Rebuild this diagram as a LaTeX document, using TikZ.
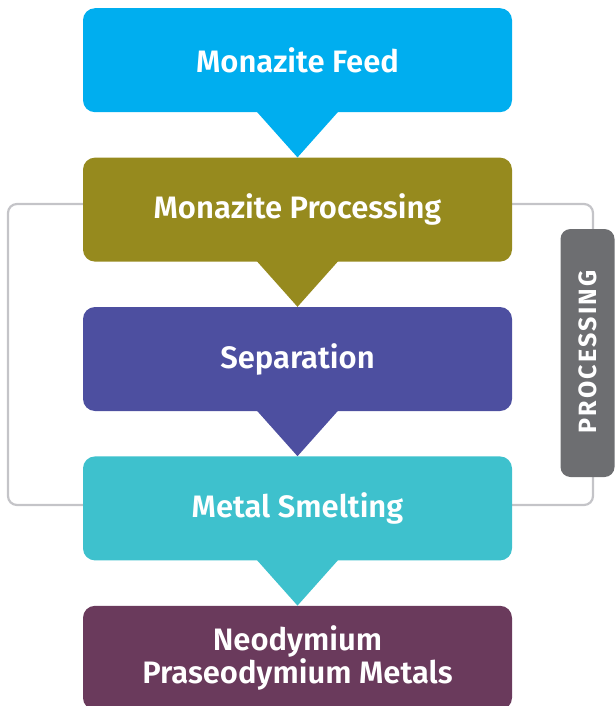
\documentclass[tikz,border=0pt]{standalone}
\usepackage{fontspec}
\setmainfont{Fira Sans}[BoldFont={Fira Sans SemiBold}]
\newfontfamily\spacedfont{Fira Sans}[LetterSpace=9]
\usetikzlibrary{positioning,calc}

\definecolor{feedblue}{HTML}{00AEEF}
\definecolor{procolive}{HTML}{968A1E}
\definecolor{sepindigo}{HTML}{4D4FA0}
\definecolor{smeltteal}{HTML}{3EC1CD}
\definecolor{metalplum}{HTML}{6A3A5C}
\definecolor{bracketgray}{HTML}{C4C4C8}
\definecolor{tabgray}{HTML}{6D6E71}

\begin{document}
\begin{tikzpicture}[
    x=1pt, y=-1pt,
    node distance=45pt,
    stage/.style={
        rectangle, rounded corners=12pt, draw=none,
        minimum width=429pt, minimum height=104pt,
        align=center, text=white, inner sep=2pt,
        font=\fontsize{31}{33}\selectfont\bfseries
    },
    % pointer below each stage
    pointer/.style={fill=#1, draw=none},
    bracket/.style={draw=bracketgray, line width=2.2pt, rounded corners=9pt},
    tab/.style={
        rectangle, rounded corners=10pt, fill=tabgray,
        minimum width=248pt, minimum height=54pt,
        text=white, font=\spacedfont\fontsize{25}{27}\selectfont\bfseries
    }
]
\useasboundingbox (0,0) rectangle (614,706);

% === Bracket round the processing stages ===
\coordinate (BL1) at (83,204);
\coordinate (BL2) at (83,505);
\coordinate (BR1) at (512,204);
\coordinate (BR2) at (512,505);
\draw[bracket] (BL1) -- (8,204) -- (8,505) -- (BL2);
\draw[bracket] (BR1) -- (593,204) -- (593,505) -- (BR2);

% === Stages ===
\node[stage, fill=feedblue, anchor=north] (feed) at (297.5,8) {Monazite Feed};
\node[stage, fill=procolive, below=of feed] (proc) {Monazite Processing};
\node[stage, fill=sepindigo, below=of proc] (sep) {Separation};
\node[stage, fill=smeltteal, below=of sep] (smelt) {Metal Smelting};
\node[stage, fill=metalplum, below=of smelt] (metal) {Neodymium\\Praseodymium Metals};

% === Pointers ===
\foreach \a/\b/\c in {feed/proc/feedblue, proc/sep/procolive,
                      sep/smelt/sepindigo, smelt/metal/smeltteal}{
  \fill[pointer=\c] ($(\a.south)+(-41,-1)$) -- ($(\a.south)+(41,-1)$)
      -- (\b.north) -- cycle;
}

% === Side tab ===
\node[tab, rotate=90] (tabel) at (587.5,353) {PROCESSING\kern-0.09em};

\end{tikzpicture}
\end{document}
